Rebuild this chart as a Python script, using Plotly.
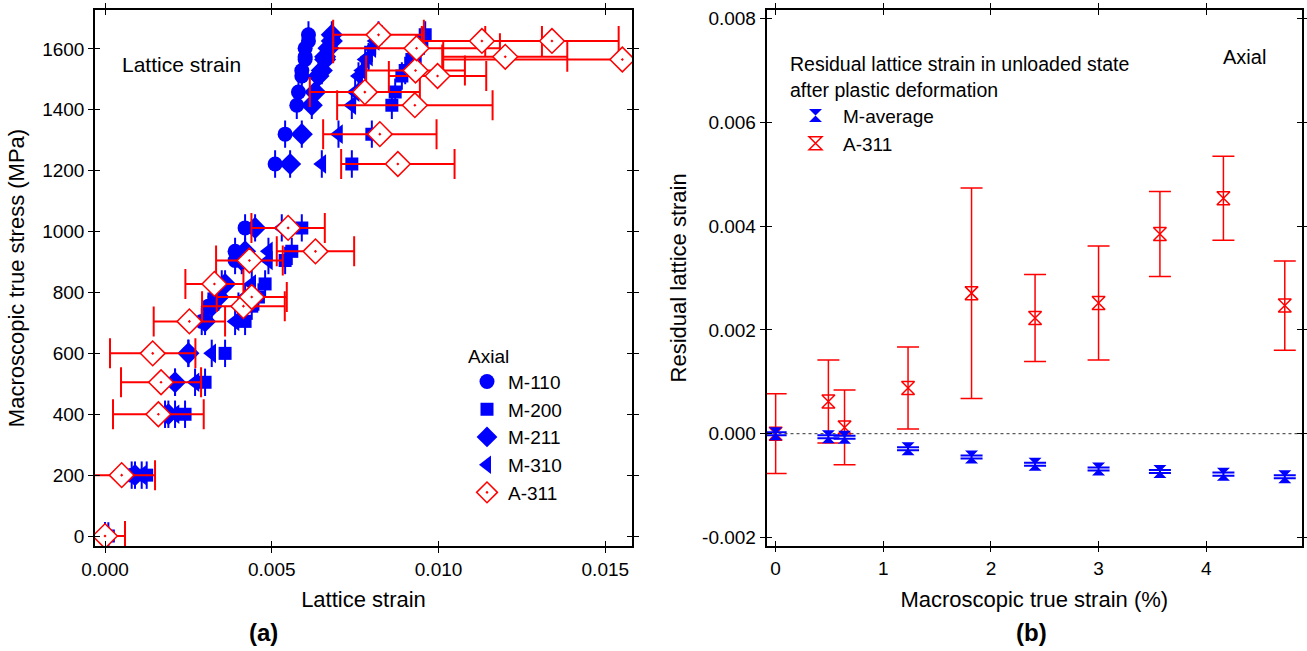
import plotly.graph_objects as go

# ---------------- Panel (a) data ----------------
stress_levels = [0, 200, 400, 505, 600, 705, 755, 785, 828, 905, 935, 1012,
                 1222, 1320, 1415, 1458, 1511, 1529, 1565, 1574, 1602, 1626, 1646]

m110_strain = [0.0000, 0.0008, 0.0018, 0.0021, 0.0025, 0.0029, 0.0031, 0.0033, 0.0035, 0.0039, 0.0039, 0.0042,
               0.0051, 0.0054, 0.00575, 0.0058, 0.0059, 0.0059, 0.0060, 0.0060, 0.0060, 0.0061, 0.0061]
m200_strain = [0.0001, 0.00125, 0.0024, 0.0030, 0.0036, 0.0042, 0.0044, 0.0046, 0.0048, 0.0054, 0.0056, 0.0059,
               0.0074, 0.0080, 0.0086, 0.0087, 0.0089, 0.0090, 0.0092, 0.0093, 0.0094, 0.0095, 0.0096]
m211_strain = [0.0000, 0.0009, 0.0019, 0.0021, 0.0025, 0.0030, 0.0032, 0.0034, 0.0036, 0.0041, 0.0042, 0.0045,
               0.00555, 0.0059, 0.0062, 0.0063, 0.0064, 0.0065, 0.0066, 0.0066, 0.0067, 0.0068, 0.0068]
m310_strain = [0.0000, 0.0011, 0.0021, 0.0027, 0.0032, 0.0039, 0.0040, 0.0042, 0.0044, 0.0049, 0.0049, 0.0053,
               0.0065, 0.0070, 0.0074, 0.0075, 0.0076, 0.0077, 0.0078, 0.0079, 0.0080, 0.0081, 0.0082]
stress_err = 45

a311_stress = [0, 200, 400, 505, 600, 705, 755, 785, 828, 905, 935, 1012,
               1222, 1320, 1415, 1458, 1511, 1529, 1565, 1574, 1602, 1626, 1626, 1646]
a311_strain = [0.0000, 0.0005, 0.0016, 0.00168, 0.00143, 0.00253, 0.00415, 0.0044, 0.00328, 0.00433, 0.00631, 0.00549,
               0.00878, 0.00824, 0.00929, 0.00779, 0.00997, 0.00931, 0.01551, 0.0120, 0.00934, 0.0113, 0.0134, 0.0082]
a311_err = [0.0006, 0.001, 0.00136, 0.0012, 0.00128, 0.00107, 0.00124, 0.00105, 0.00087, 0.0010, 0.00116, 0.0011,
            0.0017, 0.0017, 0.00233, 0.00165, 0.00146, 0.00148, 0.0054, 0.00186, 0.0025, 0.0018, 0.0020, 0.00136]

# ---------------- Panel (b) data ----------------
macro_strain = [0.0, 0.49, 0.64, 1.23, 1.82, 2.41, 3.0, 3.57, 4.16, 4.73]
mavg_resid = [0.0, -0.00006, -0.00007, -0.00029, -0.00045, -0.00059, -0.00068, -0.00073, -0.00078, -0.00083]
mavg_err = [0.00003] * 10
a311_resid = [0.0, 0.00062, 0.00012, 0.00088, 0.00271, 0.00223, 0.00252, 0.00385, 0.00454, 0.00247]
a311_resid_err = [0.00077, 0.0008, 0.00072, 0.00079, 0.00203, 0.00084, 0.0011, 0.00082, 0.00081, 0.00086]

# tick definitions
xa_ticks = [0, 0.005, 0.010, 0.015]
ya_ticks = [0, 200, 400, 600, 800, 1000, 1200, 1400, 1600]
xb_ticks = [0, 1, 2, 3, 4]
yb_ticks = [-0.002, 0, 0.002, 0.004, 0.006, 0.008]

BLUE = "#0000ff"
RED = "#ff0000"
FONT = "Liberation Sans"

fig = go.Figure()

blue_series = [
    ("M-110", m110_strain, "circle", 15),
    ("M-200", m200_strain, "square", 13),
    ("M-211", m211_strain, "diamond", 17),
    ("M-310", m310_strain, "triangle-left", 17),
]
for name, xs, sym, size in blue_series:
    fig.add_trace(go.Scatter(
        x=xs, y=stress_levels, mode="markers", name=name,
        marker=dict(symbol=sym, size=size, color=BLUE, line=dict(width=0)),
        error_y=dict(type="constant", value=stress_err, color=BLUE, thickness=2, width=0),
        xaxis="x", yaxis="y", legend="legend",
    ))

fig.add_trace(go.Scatter(
    x=a311_strain, y=a311_stress, mode="markers", name="A-311",
    marker=dict(symbol="diamond-dot", size=19, color="white", line=dict(color=RED, width=1.5)),
    error_x=dict(type="data", array=a311_err, color=RED, thickness=2, width=15),
    xaxis="x", yaxis="y", legend="legend",
))

# Panel (b)
fig.add_trace(go.Scatter(
    x=macro_strain, y=a311_resid, mode="markers", name="A-311",
    marker=dict(symbol="hourglass-open", size=13, color=RED, line=dict(color=RED, width=1.5)),
    error_y=dict(type="data", array=a311_resid_err, color=RED, thickness=1.5, width=11),
    xaxis="x2", yaxis="y2", legend="legend2", legendrank=2,
))
fig.add_trace(go.Scatter(
    x=macro_strain, y=mavg_resid, mode="markers", name="M-average",
    marker=dict(symbol="hourglass", size=13, color=BLUE, line=dict(width=0)),
    error_y=dict(type="data", array=mavg_err, color=BLUE, thickness=2, width=11),
    xaxis="x2", yaxis="y2", legend="legend2", legendrank=1,
))

# invisible traces for crossing-tick overlay axes
fig.add_trace(go.Scatter(x=[None], y=[None], xaxis="x3", yaxis="y3", showlegend=False, hoverinfo="skip"))
fig.add_trace(go.Scatter(x=[None], y=[None], xaxis="x4", yaxis="y4", showlegend=False, hoverinfo="skip"))

tickfont = dict(family=FONT, size=19, color="black")
titlefont = dict(family=FONT, size=22, color="black")

xa_dom = [95 / 1307, 632 / 1307]
ya_dom = [1 - 546.4 / 651, 1 - 9.6 / 651]
xb_dom = [766.5 / 1307, 1302 / 1307]
yb_dom = [1 - 545.7 / 651, 1 - 10 / 651]

xa_range = [-0.0003, 0.0158]
ya_range = [-34, 1729]
xb_range = [-0.085, 4.89]
yb_range = [-0.00216, 0.00817]

axis_common = dict(showline=True, linecolor="black", linewidth=1.5, mirror="ticks",
                   ticks="outside", ticklen=5, tickwidth=1.2, tickcolor="black",
                   showgrid=False, zeroline=False, tickfont=tickfont, automargin=False)
over_common = dict(showline=False, mirror="ticks", ticks="inside", ticklen=5, tickwidth=1.2,
                   tickcolor="black", showgrid=False, zeroline=False, showticklabels=False,
                   automargin=False)

fig.update_layout(
    width=1307, height=651,
    margin=dict(l=0, r=0, t=0, b=0, autoexpand=False),
    paper_bgcolor="white", plot_bgcolor="white",
    font=dict(family=FONT, color="black"),
    xaxis=dict(domain=xa_dom, range=xa_range, anchor="y", tickvals=xa_ticks,
               ticktext=[f"{v:.3f}" for v in xa_ticks],
               title=dict(text="Lattice strain", font=titlefont, standoff=13), **axis_common),
    yaxis=dict(domain=ya_dom, range=ya_range, anchor="x", tickvals=ya_ticks,
               ticktext=[f"{v:d}" for v in ya_ticks],
               title=dict(text="Macroscopic true stress (MPa)", font=titlefont, standoff=11), **axis_common),
    xaxis2=dict(domain=xb_dom, range=xb_range, anchor="y2", tickvals=xb_ticks,
                ticktext=[f"{v:d}" for v in xb_ticks],
                title=dict(text="Macroscopic true strain (%)", font=titlefont, standoff=13), **axis_common),
    yaxis2=dict(domain=yb_dom, range=yb_range, anchor="x2", tickvals=yb_ticks,
                ticktext=[f"{v:.3f}" for v in yb_ticks],
                title=dict(text="Residual lattice strain", font=titlefont, standoff=9), **axis_common),
    xaxis3=dict(overlaying="x", anchor="y3", range=xa_range, tickvals=xa_ticks, **over_common),
    yaxis3=dict(overlaying="y", anchor="x3", range=ya_range, tickvals=ya_ticks, **over_common),
    xaxis4=dict(overlaying="x2", anchor="y4", range=xb_range, tickvals=xb_ticks, **over_common),
    yaxis4=dict(overlaying="y2", anchor="x4", range=yb_range, tickvals=yb_ticks, **over_common),
    legend=dict(title=dict(text="Axial", font=dict(family=FONT, size=19)),
                x=466 / 1307, y=1 - 338 / 651, xanchor="left", yanchor="top",
                font=dict(family=FONT, size=19, color="black"), bgcolor="rgba(0,0,0,0)",
                itemsizing="trace", tracegroupgap=0, itemwidth=32),
    legend2=dict(title=dict(text="Residual lattice strain in unloaded state<br>after plastic deformation",
                            font=dict(family=FONT, size=19.5)),
                 x=788 / 1307, y=1 - 46 / 651, xanchor="left", yanchor="top",
                 font=dict(family=FONT, size=19, color="black"), bgcolor="rgba(0,0,0,0)",
                 itemsizing="trace", tracegroupgap=0, itemwidth=45),
    shapes=[dict(type="line", xref="x2 domain", yref="y2", x0=0, x1=1, y0=0, y1=0,
                 line=dict(color="#333333", width=1, dash="dot"), layer="below")],
    annotations=[
        dict(text="Lattice strain", x=120 / 1307, y=1 - 65 / 651, xref="paper", yref="paper",
             xanchor="left", yanchor="middle", showarrow=False, font=dict(family=FONT, size=21)),
        dict(text="Axial", x=1244 / 1307, y=1 - 57 / 651, xref="paper", yref="paper",
             xanchor="center", yanchor="middle", showarrow=False, font=dict(family=FONT, size=20)),
        dict(text="<b>(a)</b>", x=263 / 1307, y=1 - 632 / 651, xref="paper", yref="paper",
             xanchor="center", yanchor="middle", showarrow=False, font=dict(family=FONT, size=24)),
        dict(text="<b>(b)</b>", x=1031 / 1307, y=1 - 632 / 651, xref="paper", yref="paper",
             xanchor="center", yanchor="middle", showarrow=False, font=dict(family=FONT, size=24)),
    ],
)

fig.write_html("out.html")
